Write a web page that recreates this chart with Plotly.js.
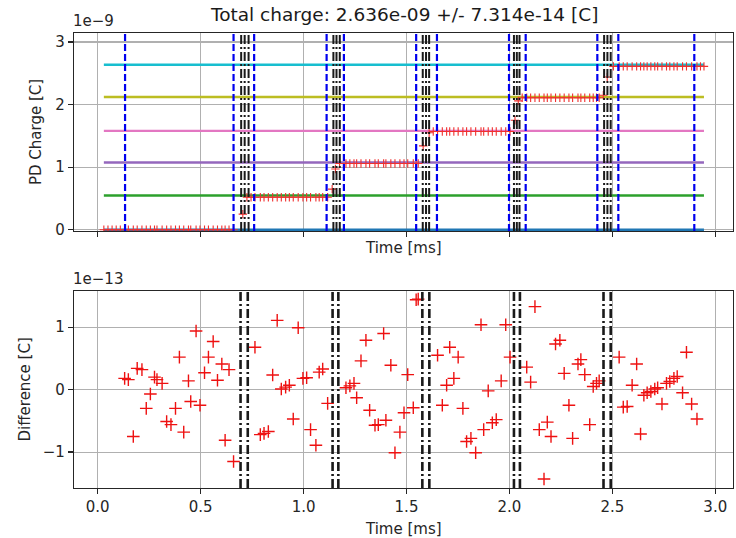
<!DOCTYPE html>
<html><head><meta charset="utf-8">
<script src="https://cdn.plot.ly/plotly-3.0.1.min.js"></script>
<style>body{margin:0;background:#fff}#chart{width:736px;height:538px}</style>
</head><body><div id="chart"></div>
<script>
// ---------- data (charge in units of 1e-9 C, difference in 1e-13 C, time in ms) ----------
const levelQ = [0, 0.547, 1.074, 1.58, 2.122, 2.636];
const levelSpan = [0.03, 2.945];

const seg0T = [0.03,0.05,0.07,0.09,0.11,0.131,0.149,0.173,0.192,0.215,0.236,0.256,0.276,0.288,0.313,0.335,0.356,0.378,0.397,0.418,0.441,0.452,0.478,0.497,0.519,0.538,0.561,0.582,0.603,0.619,0.638,0.660];
const seg1T = [0.725,0.745,0.764,0.790,0.808,0.829,0.850,0.872,0.892,0.913,0.931,0.950,0.974,0.997,1.015,1.034,1.060,1.076,1.093,1.117];
const seg2T = [1.175,1.206,1.225,1.245,1.258,1.279,1.303,1.321,1.347,1.363,1.389,1.400,1.424,1.444,1.468,1.488,1.506,1.533,1.547,1.557];
const seg3T = [1.630,1.651,1.674,1.695,1.710,1.730,1.751,1.774,1.792,1.813,1.836,1.862,1.875,1.897,1.917,1.936,1.960,1.982,2.003];
const seg4T = [2.062,2.084,2.103,2.124,2.145,2.168,2.184,2.202,2.224,2.245,2.266,2.289,2.307,2.333,2.347,2.366,2.390,2.407,2.423,2.436];
const seg5T = [2.505,2.533,2.553,2.572,2.596,2.618,2.637,2.653,2.669,2.687,2.706,2.720,2.741,2.763,2.779,2.799,2.815,2.841,2.860,2.885,2.911,2.928,2.945];
const segLevel = [0, 0.52, 1.06, 1.57, 2.11, 2.61];
const transT = [0.705, 1.139, 1.155, 1.581, 1.610, 2.027, 2.043, 2.456, 2.475];
const transQ = [0.25, 0.65, 0.97, 1.34, 1.55, 1.75, 2.06, 2.15, 2.44];

const diffT = [0.131,0.149,0.173,0.192,0.215,0.236,0.256,0.276,0.288,0.313,0.335,0.356,0.378,0.397,0.418,0.441,0.452,0.478,0.497,0.519,0.538,0.561,0.582,0.603,0.619,0.638,0.660,
0.764,0.790,0.808,0.829,0.850,0.872,0.892,0.913,0.931,0.950,0.974,0.997,1.015,1.034,1.060,1.076,1.093,1.117,
1.206,1.225,1.245,1.258,1.279,1.303,1.321,1.347,1.363,1.389,1.400,1.424,1.444,1.468,1.488,1.506,1.533,1.547,1.557,
1.651,1.674,1.695,1.710,1.730,1.751,1.774,1.792,1.813,1.836,1.862,1.875,1.897,1.917,1.936,1.960,1.982,2.003,
2.084,2.103,2.124,2.145,2.168,2.184,2.202,2.224,2.245,2.266,2.289,2.307,2.333,2.347,2.366,2.390,2.407,2.423,2.436,
2.533,2.553,2.572,2.596,2.618,2.637,2.653,2.669,2.687,2.706,2.720,2.741,2.763,2.779,2.799,2.815,2.841,2.860,2.885,2.911];
const diffV = [0.18,0.16,-0.75,0.34,0.32,-0.30,-0.07,0.20,0.16,0.10,-0.51,-0.56,-0.30,0.52,-0.68,0.14,-0.19,0.94,-0.25,0.27,0.52,0.77,0.15,0.41,-0.81,0.32,-1.15,
0.68,-0.72,-0.70,-0.67,0.235,1.11,0.01,0.04,0.07,-0.47,0.99,0.18,0.19,-0.64,-0.89,0.28,0.33,-0.22,
0.03,0.06,0.10,-0.13,0.46,0.79,-0.33,-0.57,-0.56,0.90,-0.49,0.39,-1.01,-0.68,-0.37,0.24,-0.29,1.44,1.45,
0.55,-0.25,0.07,0.68,0.18,0.52,-0.30,-0.83,-0.78,-1.01,1.04,-0.64,-0.02,-0.53,-0.48,0.14,1.04,0.52,
0.36,0.12,1.33,-0.64,-1.43,-0.52,-0.75,0.73,0.79,0.26,-0.25,-0.78,0.41,0.48,0.24,-0.56,0.05,0.10,0.14,
0.52,-0.28,-0.27,0.07,0.41,-0.71,-0.09,-0.05,-0.03,0.01,0.03,-0.23,0.10,0.13,0.18,0.21,-0.05,0.60,-0.23,-0.47];

const blueT = [0.133, 0.660, 0.760, 1.112, 1.196, 1.547, 1.648, 1.998, 2.079, 2.427, 2.529, 2.898];
const topBlackT = [0.697,0.714,0.733, 1.145,1.160,1.176, 1.579,1.595,1.610, 2.022,2.036,2.049, 2.460,2.476,2.492];
const botBlackT = [0.694,0.729, 1.141,1.169, 1.577,1.611, 2.022,2.051, 2.457,2.492];

const titleText = 'Total charge: 2.636e-09 +/- 7.314e-14 [C]';

// ---------- styles ----------
const levelColors = ['#1f77b4','#2ca02c','#9467bd','#e377c2','#bcbd22','#17becf'];
const FONT = 'DejaVu Sans, sans-serif';
const traces = [];
levelQ.forEach((q,i)=>{
  traces.push({x: levelSpan, y:[q,q], mode:'lines', line:{color:levelColors[i], width:2.4},
    xaxis:'x', yaxis:'y', hoverinfo:'skip', showlegend:false});
});
const segs = [seg0T, seg1T, seg2T, seg3T, seg4T, seg5T];
const stepX = [], stepY = [];
segs.forEach((arr,i)=>{ arr.forEach(t=>{ stepX.push(t); stepY.push(segLevel[i]); }); });
transT.forEach((t,i)=>{ stepX.push(t); stepY.push(transQ[i]); });
traces.push({x: stepX, y: stepY, mode:'markers', xaxis:'x', yaxis:'y', showlegend:false,
  marker:{symbol:'cross-thin-open', size:6, color:'#f0302f', line:{width:1.1, color:'#f0302f'}}});
traces.push({x: diffT, y: diffV, mode:'markers', xaxis:'x2', yaxis:'y2', showlegend:false,
  marker:{symbol:'cross-thin-open', size:9, color:'#ee1111', line:{width:1.4, color:'#ee1111'}}});

const shapes = [];
blueT.forEach(t=>shapes.push({type:'line', xref:'x', yref:'y domain', x0:t, x1:t, y0:0, y1:1,
  line:{color:'#0000ee', width:2.2, dash:'7px,3px'}}));
topBlackT.forEach(t=>shapes.push({type:'line', xref:'x', yref:'y domain', x0:t, x1:t, y0:0, y1:1,
  line:{color:'#1a1a1a', width:2.0, dash:'9px,3px,2px,3px'}}));
botBlackT.forEach(t=>shapes.push({type:'line', xref:'x2', yref:'y2 domain', x0:t, x1:t, y0:0, y1:1,
  line:{color:'#1a1a1a', width:2.6, dash:'9px,3px,2px,3px'}}));

const axBase = {showline:true, mirror:true, linecolor:'#262626', linewidth:1.2, ticks:'outside', ticklen:5,
  tickwidth:1.2, tickcolor:'#262626', showgrid:true, gridcolor:'#b0b0b0', gridwidth:1.1, zeroline:false,
  tickfont:{family:FONT, size:15, color:'#262626'}};

const layout = {
  width:736, height:538, margin:{l:74, r:3, t:33, b:50}, paper_bgcolor:'#fff', plot_bgcolor:'#fff',
  showlegend:false,
  xaxis: Object.assign({}, axBase, {domain:[0,1], anchor:'y', range:[-0.115,3.086], tick0:0, dtick:0.5, showticklabels:false}),
  yaxis: Object.assign({}, axBase, {domain:[0.5648,1], anchor:'x', range:[-0.02,3.144], tick0:0, dtick:1}),
  xaxis2: Object.assign({}, axBase, {domain:[0,1], anchor:'y2', range:[-0.115,3.086], tick0:0, dtick:0.5, tickformat:'.1f'}),
  yaxis2: Object.assign({}, axBase, {domain:[0,0.433], anchor:'x2', range:[-1.575,1.58], tick0:0, dtick:1}),
  shapes: shapes,
  annotations: [
    {text:titleText, xref:'paper', yref:'paper', x:0.5, y:1, yshift:6, xanchor:'center', yanchor:'bottom', showarrow:false,
      font:{family:FONT, size:18.5, color:'#1a1a1a'}},
    {text:'1e\u22129', xref:'paper', yref:'paper', x:0, y:1, xanchor:'left', yanchor:'bottom', showarrow:false, xshift:-3, yshift:1,
      font:{family:FONT, size:15, color:'#262626'}},
    {text:'1e\u221213', xref:'paper', yref:'paper', x:0, y:0.433, xanchor:'left', yanchor:'bottom', showarrow:false, xshift:-3, yshift:1,
      font:{family:FONT, size:15, color:'#262626'}},
    {text:'PD Charge [C]', xref:'paper', yref:'paper', x:0, xshift:-38, y:0.7824, textangle:-90, xanchor:'center', yanchor:'middle', showarrow:false,
      font:{family:FONT, size:15, color:'#262626'}},
    {text:'Difference [C]', xref:'paper', yref:'paper', x:0, xshift:-49, y:0.2165, textangle:-90, xanchor:'center', yanchor:'middle', showarrow:false,
      font:{family:FONT, size:15, color:'#262626'}},
    {text:'Time [ms]', xref:'paper', yref:'paper', x:0.5, y:0.5648, yshift:-6, xanchor:'center', yanchor:'top', showarrow:false,
      font:{family:FONT, size:15, color:'#262626'}},
    {text:'Time [ms]', xref:'paper', yref:'paper', x:0.5, y:0, yshift:-41, xanchor:'center', yanchor:'middle', showarrow:false,
      font:{family:FONT, size:15, color:'#262626'}}
  ]
};
Plotly.newPlot('chart', traces, layout, {displayModeBar:false, staticPlot:true});
</script></body></html>
